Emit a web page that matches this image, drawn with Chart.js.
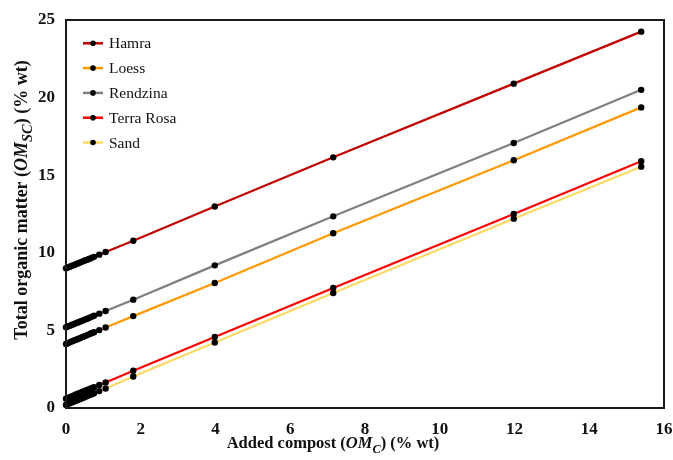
<!DOCTYPE html>
<html>
<head>
<meta charset="utf-8">
<script src="https://cdn.jsdelivr.net/npm/chart.js@4/dist/chart.umd.min.js"></script>
<style>
html,body{margin:0;padding:0;background:#fff;}
canvas{display:block;}
</style>
</head>
<body>
<canvas id="c" width="673" height="460"></canvas>
<script>
// Added compost (% wt)
const compost = [0, 0.05, 0.10, 0.15, 0.20, 0.25, 0.30, 0.35, 0.40, 0.45, 0.50, 0.55, 0.60, 0.65, 0.70, 0.75, 0.89, 1.06, 1.80, 3.98, 7.15, 11.98, 15.39];
const seriesNames = ["Hamra", "Loess", "Rendzina", "Terra Rosa", "Sand"];
const hamra     = [9.00, 9.05, 9.10, 9.15, 9.20, 9.25, 9.30, 9.35, 9.40, 9.45, 9.50, 9.54, 9.59, 9.64, 9.69, 9.74, 9.88, 10.05, 10.78, 12.98, 16.15, 20.90, 24.25];
const loess     = [4.13, 4.18, 4.23, 4.28, 4.33, 4.38, 4.43, 4.48, 4.53, 4.58, 4.63, 4.68, 4.73, 4.78, 4.83, 4.88, 5.02, 5.19, 5.92, 8.05, 11.26, 15.96, 19.37];
const rendzina  = [5.20, 5.25, 5.30, 5.35, 5.40, 5.45, 5.50, 5.54, 5.59, 5.64, 5.69, 5.74, 5.79, 5.84, 5.89, 5.94, 6.08, 6.25, 6.98, 9.19, 12.35, 17.07, 20.50];
const terraRosa = [0.60, 0.65, 0.70, 0.75, 0.80, 0.85, 0.90, 0.95, 1.00, 1.05, 1.10, 1.15, 1.19, 1.24, 1.29, 1.34, 1.48, 1.65, 2.40, 4.58, 7.73, 12.50, 15.90];
const sand      = [0.20, 0.25, 0.30, 0.35, 0.40, 0.45, 0.50, 0.55, 0.60, 0.65, 0.70, 0.75, 0.80, 0.85, 0.90, 0.95, 1.09, 1.26, 2.03, 4.22, 7.41, 12.20, 15.55];
const xTicks = [0, 2, 4, 6, 8, 10, 12, 14, 16];
const yTicks = [0, 5, 10, 15, 20, 25];

const colors = ["#C00000", "#FF9900", "#7F7F7F", "#FF0000", "#FFD966"];
const values = [hamra, loess, rendzina, terraRosa, sand];

const SERIF = "'Liberation Serif', 'Times New Roman', serif";

function mk(i) {
  return {
    label: seriesNames[i],
    data: compost.map((x, k) => ({x: x, y: values[i][k]})),
    showLine: true,
    borderColor: colors[i],
    borderWidth: 2.2,
    pointRadius: 3.2,
    pointBackgroundColor: "#000",
    pointBorderColor: "#000",
    pointBorderWidth: 0,
    clip: false
  };
}
// draw order: sand below terra rosa
const datasets = [mk(4), mk(3), mk(1), mk(2), mk(0)];

const framePlugin = {
  id: 'frame',
  afterDatasetsDraw(chart) {
    const {ctx, chartArea: a} = chart;
    ctx.save();
    ctx.strokeStyle = "#1a1a1a";
    ctx.lineWidth = 2;
    ctx.strokeRect(a.left, a.top, a.right - a.left, a.bottom - a.top);
    ctx.restore();
  }
};

const legendPlugin = {
  id: 'customLegend',
  afterDraw(chart) {
    const ctx = chart.ctx;
    ctx.save();
    const x0 = 83, x1 = 103, tx = 109, y0 = 43.3, dy = 24.8;
    ctx.font = "15.5px " + SERIF;
    ctx.textBaseline = "middle";
    ctx.textAlign = "left";
    seriesNames.forEach((name, i) => {
      const y = y0 + i * dy;
      ctx.strokeStyle = colors[i];
      ctx.lineWidth = 2.5;
      ctx.beginPath(); ctx.moveTo(x0, y); ctx.lineTo(x1, y); ctx.stroke();
      ctx.fillStyle = "#000";
      ctx.beginPath(); ctx.arc((x0 + x1) / 2, y, 2.8, 0, Math.PI * 2); ctx.fill();
      ctx.fillStyle = "#111";
      ctx.fillText(name, tx, y + 1);
    });
    ctx.restore();
  }
};

function drawRich(ctx, parts, size, subRatio) {
  // parts: [text, italic, sub]
  let w = 0;
  const fonts = parts.map(p => {
    const s = p[2] ? size * subRatio : size;
    const f = (p[1] ? "italic " : "") + "bold " + s + "px " + SERIF;
    ctx.font = f;
    const pw = ctx.measureText(p[0]).width;
    w += pw;
    return {f, pw};
  });
  let x = -w / 2;
  parts.forEach((p, i) => {
    ctx.font = fonts[i].f;
    ctx.fillText(p[0], x, p[2] ? size * 0.28 : 0);
    x += fonts[i].pw;
  });
}

const titlePlugin = {
  id: 'titles',
  afterDraw(chart) {
    const ctx = chart.ctx;
    ctx.save();
    ctx.fillStyle = "#111";
    ctx.textBaseline = "alphabetic";
    ctx.textAlign = "left";
    // x title
    ctx.save();
    ctx.translate(333, 448);
    drawRich(ctx, [["Added compost (", false, false], ["OM", true, false], ["C", true, true], [") (% wt)", false, false]], 16.5, 0.75);
    ctx.restore();
    // y title
    ctx.save();
    ctx.translate(27, 200);
    ctx.rotate(-Math.PI / 2);
    drawRich(ctx, [["Total organic matter (", false, false], ["OM", true, false], ["SC", true, true], [") (% wt)", false, false]], 18, 0.8);
    ctx.restore();
    ctx.restore();
  }
};

new Chart(document.getElementById('c'), {
  type: 'scatter',
  data: {datasets},
  plugins: [framePlugin, legendPlugin, titlePlugin],
  options: {
    responsive: false,
    animation: false,
    devicePixelRatio: 1,
    layout: {padding: {top: 20, right: 9, left: 0, bottom: 0}},
    plugins: {legend: {display: false}, tooltip: {enabled: false}},
    scales: {
      x: {
        type: 'linear', min: 0, max: 16,
        afterFit(s) { s.height = 52; s.paddingRight = 0; s.paddingLeft = 0; },
        afterBuildTicks(s) { s.ticks = xTicks.map(v => ({value: v})); },
        grid: {display: false, drawTicks: false},
        border: {display: false},
        ticks: {color: "#111", padding: 11, font: {family: SERIF, size: 17, weight: 'bold'}}
      },
      y: {
        type: 'linear', min: 0, max: 25,
        afterFit(s) { s.width = 66; s.paddingTop = 0; s.paddingBottom = 0; },
        afterBuildTicks(s) { s.ticks = yTicks.map(v => ({value: v})); },
        grid: {display: false, drawTicks: false},
        border: {display: false},
        ticks: {color: "#111", padding: 11, font: {family: SERIF, size: 17, weight: 'bold'}}
      }
    }
  }
});
</script>
</body>
</html>
